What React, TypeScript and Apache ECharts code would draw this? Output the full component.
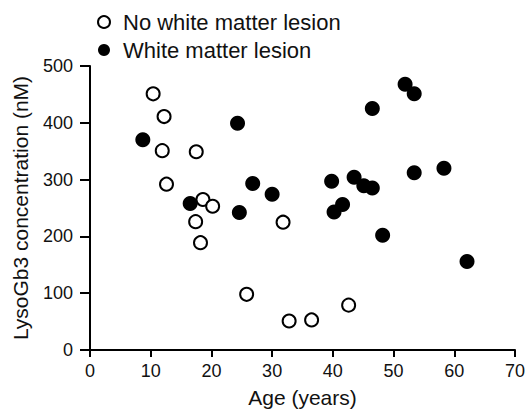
import React, { useEffect, useRef } from "react";
import * as echarts from "echarts";

const noLesionAge = [10.4, 12.2, 11.9, 12.6, 17.5, 18.6, 20.2, 17.4, 18.2, 25.8, 31.8, 32.8, 36.5, 42.6];
const noLesionConc = [451, 411, 351, 292, 349, 265, 253, 226, 189, 98, 225, 51, 53, 79];

const lesionAge = [8.7, 24.3, 16.5, 26.8, 30.0, 24.6, 39.8, 43.5, 45.1, 46.5, 41.6, 40.2, 48.2, 46.5, 51.9, 53.4, 53.4, 58.3, 62.1];
const lesionConc = [370, 399, 258, 293, 274, 242, 297, 304, 289, 285, 256, 243, 202, 425, 468, 451, 312, 320, 156];

const FONT = "Liberation Sans, Arial, Helvetica, sans-serif";

export default function App() {
  const ref = useRef<HTMLDivElement>(null);
  useEffect(() => {
    if (!ref.current) return;
    const chart = echarts.init(ref.current, null, { renderer: "svg" });
    chart.setOption({
      animation: false,
      backgroundColor: "#fff",
      textStyle: { fontFamily: FONT },
      legend: {
        orient: "vertical",
        left: 92,
        top: 6,
        itemGap: 6,
        itemWidth: 28,
        itemHeight: 12,
        textStyle: { fontSize: 22, color: "#111", fontFamily: FONT },
        data: [
          { name: "No white matter lesion", icon: "circle" },
          { name: "White matter lesion", icon: "circle" },
        ],
      },
      grid: { left: 90, right: 12, top: 66, bottom: 62, containLabel: false },
      xAxis: {
        type: "value",
        min: 0,
        max: 70,
        interval: 10,
        name: "Age (years)",
        nameLocation: "middle",
        nameGap: 37,
        nameTextStyle: { fontSize: 21, color: "#111", fontFamily: FONT },
        splitLine: { show: false },
        axisLine: { show: true, lineStyle: { color: "#000", width: 2 } },
        axisTick: { show: true, length: 7, lineStyle: { color: "#000", width: 2 } },
        axisLabel: { fontSize: 18, color: "#111", margin: 12, fontFamily: FONT },
      },
      yAxis: {
        type: "value",
        min: 0,
        max: 500,
        interval: 100,
        name: "LysoGb3 concentration (nM)",
        nameLocation: "middle",
        nameGap: 59,
        nameRotate: 90,
        nameTextStyle: { fontSize: 21, color: "#111", fontFamily: FONT },
        splitLine: { show: false },
        axisLine: { show: true, lineStyle: { color: "#000", width: 2 } },
        axisTick: { show: true, length: 10, lineStyle: { color: "#000", width: 2 } },
        axisLabel: { fontSize: 18, color: "#111", margin: 17, fontFamily: FONT },
      },
      series: [
        {
          name: "No white matter lesion",
          type: "scatter",
          symbol: "circle",
          symbolSize: 13,
          itemStyle: { color: "#fff", borderColor: "#000", borderWidth: 2, opacity: 1 },
          data: noLesionAge.map((a, i) => [a, noLesionConc[i]]),
          z: 3,
        },
        {
          name: "White matter lesion",
          type: "scatter",
          symbol: "circle",
          symbolSize: 15,
          itemStyle: { color: "#000", opacity: 1 },
          data: lesionAge.map((a, i) => [a, lesionConc[i]]),
          z: 2,
        },
      ],
    });
    return () => chart.dispose();
  }, []);
  return <div ref={ref} style={{ width: 528, height: 413, position: "absolute", left: 0, top: 0 }} />;
}
